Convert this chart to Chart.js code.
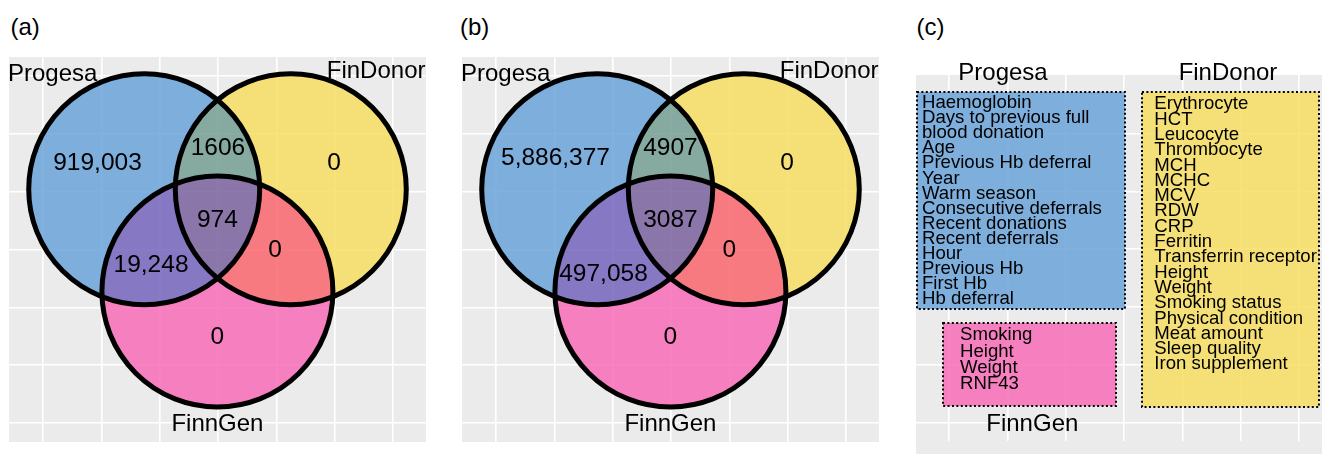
<!DOCTYPE html>
<html>
<head>
<meta charset="utf-8">
<script src="https://cdn.jsdelivr.net/npm/chart.js@4/dist/chart.umd.min.js"></script>
<style>
  body { margin: 0; background: #fff; width: 1322px; height: 454px; overflow: hidden; position: relative; font-family: 'Liberation Sans', Arial, sans-serif; }
  .panel { position: absolute; top: 0; height: 454px; }
  .tag { position: absolute; top: 15px; font-size: 24px; line-height: 24px; color: #000; }
</style>
</head>
<body>
<div class="tag" style="left:10.5px">(a)</div>
<div class="tag" style="left:460px">(b)</div>
<div class="tag" style="left:916.5px">(c)</div>
<div class="panel" style="left:0;width:446px"><canvas id="venn-a"></canvas></div>
<div class="panel" style="left:446px;width:446px"><canvas id="venn-b"></canvas></div>
<div class="panel" style="left:892px;width:430px"><canvas id="vars-c"></canvas></div>
<script>
const FONT = "'Liberation Sans', Arial, sans-serif";

// sets and regions: P only, P&F, F only, P&F&G, P&G, F&G, G only
const setNames = ['Progesa', 'FinDonor', 'FinnGen'];
const regionSets = [[1,0,0], [1,1,0], [0,1,0], [1,1,1], [1,0,1], [0,1,1], [0,0,1]];
const countsA = [919003, 1606, 0, 974, 19248, 0, 0];
const countsB = [5886377, 4907, 0, 3087, 497058, 0, 0];

// grid (tick) values
const gridX = [1, 2, 3, 4, 5, 6, 7];
const gridY = [1, 2, 3, 4, 5, 6, 7];
const gridYc = [1, 2, 3, 4, 5, 6];

// variables used per data source
const progesaVars = ['Haemoglobin', 'Days to previous full\nblood donation', 'Age', 'Previous Hb deferral', 'Year',
  'Warm season', 'Consecutive deferrals', 'Recent donations', 'Recent deferrals', 'Hour', 'Previous Hb', 'First Hb', 'Hb deferral'];
const findonorVars = ['Erythrocyte', 'HCT', 'Leucocyte', 'Thrombocyte', 'MCH', 'MCHC', 'MCV', 'RDW', 'CRP', 'Ferritin',
  'Transferrin receptor', 'Height', 'Weight', 'Smoking status', 'Physical condition', 'Meat amount', 'Sleep quality', 'Iron supplement'];
const finngenVars = ['Smoking', 'Height', 'Weight', 'RNF43'];

// layout (data units)
const circleCentres = [[2.735, 5.043], [5.248, 5.043], [3.99, 3.274]];
const circleR = 1.98;
const setLabelPos = [[0.40, 7.035, 'left'], [7.557, 7.086, 'right'], [3.99, 0.982, 'center']];
const countPosA = [[1.934, 5.49], [4.0, 5.755], [5.989, 5.496], [3.99, 4.51], [2.852, 3.72], [4.977, 3.991], [3.99, 2.478]];
const countPosB = [[2.02, 5.57], [3.99, 5.755], [5.99, 5.496], [3.99, 4.50], [2.843, 3.576], [5.0, 3.991], [3.99, 2.478]];

const regionColours = ['rgba(107,163,216,0.85)', 'rgba(116,158,147,0.85)', 'rgba(247,222,99,0.85)',
  'rgba(121,97,156,0.85)', 'rgba(118,100,189,0.85)', 'rgba(248,102,109,0.85)', 'rgba(247,108,183,0.85)'];

const fmt = n => n >= 10000 ? n.toLocaleString('en-US') : String(n);

const panelBg = {
  id: 'panelBg',
  beforeDraw(chart, args, opts) {
    const { ctx, chartArea: a } = chart;
    ctx.save();
    ctx.fillStyle = '#EBEBEB';
    ctx.fillRect(a.left, a.top, a.width, a.height + (opts.extraBottom || 0));
    ctx.restore();
  }
};

const vennFill = {
  id: 'vennFill',
  beforeDatasetsDraw(chart) {
    const pts = chart.getDatasetMeta(0).data;
    const { ctx, chartArea: a } = chart;
    regionSets.forEach((inside, k) => {
      ctx.save();
      pts.forEach((p, i) => {
        ctx.beginPath();
        if (!inside[i]) ctx.rect(a.left, a.top, a.width, a.height);
        ctx.arc(p.x, p.y, p.options.radius, 0, Math.PI * 2);
        ctx.clip(inside[i] ? 'nonzero' : 'evenodd');
      });
      ctx.fillStyle = regionColours[k];
      ctx.fillRect(a.left, a.top, a.width, a.height);
      ctx.restore();
    });
  }
};

function textLayer(items) {
  return {
    id: 'textLayer',
    afterDatasetsDraw(chart) {
      const { ctx, scales: { x, y } } = chart;
      ctx.save();
      ctx.fillStyle = '#000';
      ctx.textBaseline = 'middle';
      items.forEach(t => {
        ctx.font = t.size + 'px ' + FONT;
        ctx.textAlign = t.align || 'center';
        ctx.fillText(t.text, x.getPixelForValue(t.x), y.getPixelForValue(t.y));
      });
      ctx.restore();
    }
  };
}

function boxLayer(boxes) {
  return {
    id: 'boxLayer',
    beforeDatasetsDraw(chart) {
      const { ctx, scales: { x, y } } = chart;
      ctx.save();
      boxes.forEach(b => {
        const l = x.getPixelForValue(b.x0), r = x.getPixelForValue(b.x1);
        const t = y.getPixelForValue(b.y1), btm = y.getPixelForValue(b.y0);
        ctx.fillStyle = b.fill;
        ctx.fillRect(l, t, r - l, btm - t);
        ctx.strokeStyle = '#000';
        ctx.lineWidth = 2;
        ctx.setLineDash([2, 2.4]);
        ctx.strokeRect(l, t, r - l, btm - t);
      });
      ctx.restore();
    }
  };
}

function axis(min, max, ticks) {
  return {
    type: 'linear', min, max,
    afterBuildTicks: ax => { ax.ticks = ticks.map(v => ({ value: v })); },
    ticks: { display: false },
    grid: { color: '#ffffff', lineWidth: 1.6, drawTicks: false },
    border: { display: false }
  };
}

function baseOptions(pad, xr, yr, yTicks, extraBottom) {
  return {
    responsive: true,
    maintainAspectRatio: false,
    animation: false,
    events: [],
    layout: { padding: pad },
    plugins: { legend: { display: false }, tooltip: { enabled: false }, panelBg: { extraBottom } },
    scales: { x: axis(xr[0], xr[1], gridX), y: axis(yr[0], yr[1], yTicks) }
  };
}

function vennChart(id, counts, countPos, pad) {
  const items = counts.map((n, k) => ({ text: fmt(n), x: countPos[k][0], y: countPos[k][1], size: 24.5 }))
    .concat(setNames.map((s, i) => ({ text: s, x: setLabelPos[i][0], y: setLabelPos[i][1], align: setLabelPos[i][2], size: 24 })));
  return new Chart(document.getElementById(id), {
    type: 'scatter',
    data: {
      datasets: [{
        data: circleCentres.map(([x, y]) => ({ x, y })),
        pointRadius: ctx => {
          const s = ctx.chart.scales.x;
          return s.getPixelForValue(circleR) - s.getPixelForValue(0);
        },
        pointBackgroundColor: 'rgba(0,0,0,0)',
        pointBorderColor: '#000',
        pointBorderWidth: 5
      }]
    },
    options: baseOptions(pad, [0.417, 7.566], [0.671, 7.329], gridY, 0),
    plugins: [panelBg, vennFill, textLayer(items)]
  });
}

vennChart('venn-a', countsA, countPosA, { left: 9, top: 57, right: 20, bottom: 12 });
vennChart('venn-b', countsB, countPosB, { left: 16, top: 57, right: 13, bottom: 12 });

// panel (c): variable lists
function listItems(vars, x, y0, stepPx, chartPxPerUnit) {
  const lines = vars.flatMap(v => v.split('\n'));
  return lines.map((t, i) => ({ text: t, x, y: y0 - i * stepPx / chartPxPerUnit, size: 18.6, align: 'left' }));
}
const pxPerUnitY = 57.9;
const itemsC = [
  { text: 'Progesa', x: 1.926, y: 7.04, size: 24 },
  { text: 'FinDonor', x: 5.783, y: 7.04, size: 24 },
  { text: 'FinnGen', x: 2.428, y: 0.974, size: 24 }
].concat(listItems(progesaVars, 0.537, 6.530, 15.12, pxPerUnitY))
 .concat(listItems(findonorVars, 4.52, 6.506, 15.3, pxPerUnitY))
 .concat(listItems(finngenVars, 1.189, 2.516, 16.3, pxPerUnitY));

const boxesC = [
  { x0: 0.451, x1: 4.017, y0: 2.969, y1: 6.717, fill: regionColours[0] },
  { x0: 4.309, x1: 7.343, y0: 1.276, y1: 6.717, fill: regionColours[2] },
  { x0: 0.897, x1: 3.863, y0: 1.294, y1: 2.727, fill: regionColours[6] }
];

new Chart(document.getElementById('vars-c'), {
  type: 'scatter',
  data: { datasets: [{ data: [], pointRadius: 0 }] },
  options: baseOptions({ left: 24, top: 75, right: 0, bottom: 13 }, [0.434, 7.395], [0.689, 7.01], gridYc, 13),
  plugins: [panelBg, boxLayer(boxesC), textLayer(itemsC)]
});
</script>
</body>
</html>
